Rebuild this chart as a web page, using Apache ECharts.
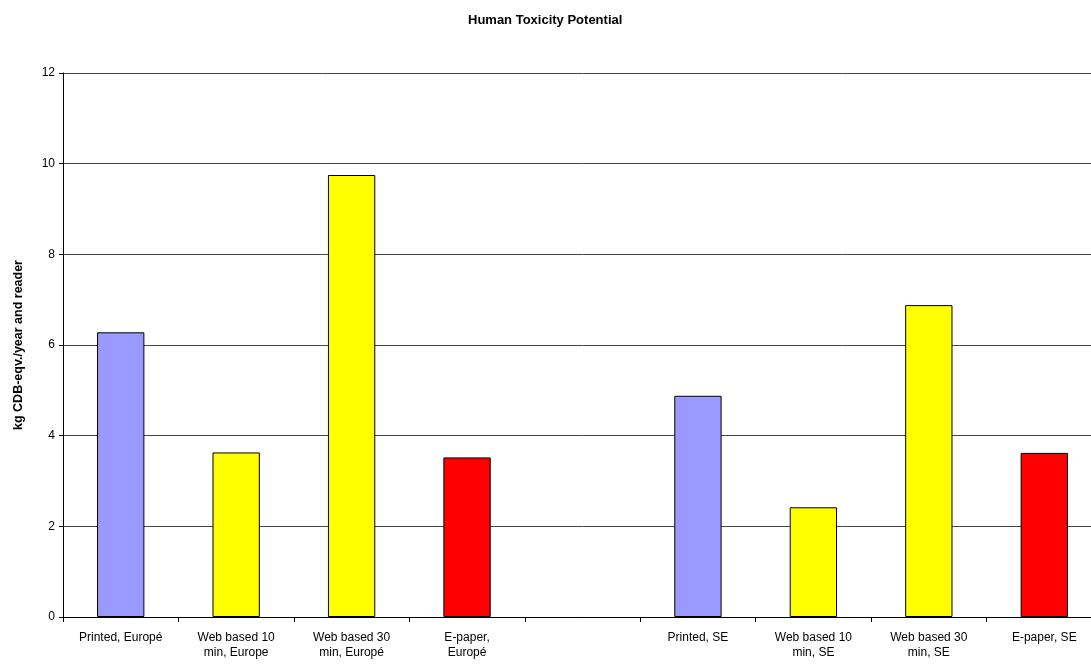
<!DOCTYPE html>
<html>
<head>
<meta charset="utf-8">
<script src="https://cdn.jsdelivr.net/npm/echarts@6/dist/echarts.min.js"></script>
<style>
html,body{margin:0;padding:0;background:#fff;overflow:hidden;width:1091px;height:666px;}
#chart{width:1102px;height:666px;}
</style>
</head>
<body>
<div id="chart"></div>
<script>
const categories = [
  'Printed, Europé',
  'Web based 10\nmin, Europe',
  'Web based 30\nmin, Europé',
  'E-paper,\nEuropé',
  '',
  'Printed, SE',
  'Web based 10\nmin, SE',
  'Web based 30\nmin, SE',
  'E-paper, SE'
];
const values = [6.28, 3.63, 9.75, 3.52, null, 4.88, 2.42, 6.88, 3.62];
const barColors = ['#9999FF', '#FFFF00', '#FFFF00', '#FF0000', '#FFFFFF', '#9999FF', '#FFFF00', '#FFFF00', '#FF0000'];
const yTicks = [0, 2, 4, 6, 8, 10, 12];

const chart = echarts.init(document.getElementById('chart'));
chart.setOption({
  animation: false,
  backgroundColor: '#ffffff',
  title: {
    text: 'Human Toxicity Potential',
    left: 463,
    top: 9,
    textStyle: {fontFamily: 'Liberation Sans, Arial, sans-serif', fontSize: 13, fontWeight: 'bold', color: '#000'}
  },
  grid: {left: 63, right: 0, top: 73, bottom: 49, containLabel: false},
  xAxis: {
    type: 'category',
    data: categories,
    boundaryGap: true,
    axisLine: {show: true, lineStyle: {color: '#000', width: 1}},
    axisTick: {show: true, alignWithLabel: false, length: 5, lineStyle: {color: '#000'}},
    axisLabel: {
      interval: 0,
      margin: 13,
      fontFamily: 'Liberation Sans, Arial, sans-serif',
      fontSize: 12,
      lineHeight: 15,
      color: '#000'
    },
    splitLine: {show: false}
  },
  yAxis: {
    type: 'value',
    min: yTicks[0],
    max: yTicks[yTicks.length - 1],
    interval: 2,
    name: 'kg CDB-eqv./year and reader',
    nameLocation: 'middle',
    nameGap: 38,
    nameTextStyle: {fontFamily: 'Liberation Sans, Arial, sans-serif', fontSize: 12.5, fontWeight: 'bold', color: '#000'},
    axisLine: {show: true, lineStyle: {color: '#000', width: 1}},
    axisTick: {show: true, length: 4, lineStyle: {color: '#000'}},
    axisLabel: {fontFamily: 'Liberation Sans, Arial, sans-serif', fontSize: 12, color: '#000', margin: 8},
    splitLine: {show: true, lineStyle: {color: '#444', width: 1}}
  },
  series: [{
    type: 'bar',
    data: values.map((v, i) => ({value: v, itemStyle: {color: barColors[i]}})),
    barWidth: '41%',
    itemStyle: {borderColor: '#000', borderWidth: 1}
  }]
});
</script>
</body>
</html>
